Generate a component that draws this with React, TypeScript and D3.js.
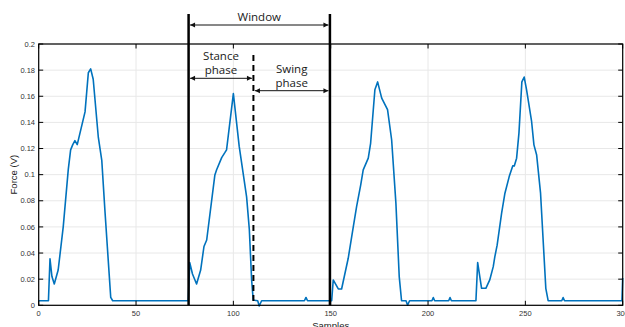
import React from "react";
import * as d3 from "d3";

const W = 625;
const H = 327;

// Force signal (sample index, volts)
const sampleIdx: number[] = [
  0, 5, 5.8, 6.8, 8, 10, 12.6, 15.2, 16.4, 17.5, 18.6, 19.8, 23.8, 25.5, 26.7, 28, 30.6, 32.4, 34, 35.7, 37, 38,
  76.8, 77.6, 79, 81.1, 83.2, 84.9, 86.3, 90.5, 91.4, 94, 95.7, 96.5, 100, 103, 106.8, 108.2, 109.4, 110.2, 112.5, 113.3, 114.5, 136.5, 137.3, 138.1, 149.8,
  150.5, 151.3, 153.9, 155.6, 159, 161.6, 163.3, 165.4, 166.7, 169.3, 170.5, 172.7, 174.1, 176.2, 179.2, 181.3, 183.5, 185.2, 186.4, 188.7, 189.5, 190.5, 202, 202.7, 203.4, 210.6, 211.3, 212, 224.6,
  225.5, 227.5, 229.7, 231.7, 233.5, 234.3, 235.5, 237.8, 239.5, 241.7, 243.5, 244.3, 245.5, 246.7, 248.2, 249.4, 250.6, 253.2, 254.4, 255.8, 257.8, 259.5, 260.5, 261.7, 268.7, 269.4, 270.1, 299.6, 300,
];
const forceV: number[] = [
  0.0035, 0.0035, 0.0355, 0.022, 0.0163, 0.027, 0.06, 0.104, 0.119, 0.123, 0.126, 0.123, 0.148, 0.178, 0.181, 0.173, 0.129, 0.111, 0.073, 0.035, 0.006, 0.0035,
  0.0035, 0.0327, 0.024, 0.0163, 0.027, 0.045, 0.05, 0.0998, 0.1037, 0.113, 0.117, 0.119, 0.162, 0.1216, 0.083, 0.058, 0.019, 0.004, 0.0035, -0.0005, 0.0035, 0.0035, 0.006, 0.0035, 0.0035,
  0.0035, 0.0194, 0.0125, 0.0125, 0.036, 0.06, 0.0756, 0.092, 0.1037, 0.1126, 0.124, 0.165, 0.171, 0.1586, 0.1497, 0.1267, 0.078, 0.022, 0.0035, 0.0035, 0.0, 0.0035, 0.0035, 0.006, 0.0035, 0.0035, 0.006, 0.0035, 0.0035,
  0.0327, 0.013, 0.013, 0.0194, 0.0296, 0.037, 0.046, 0.0705, 0.0858, 0.0985, 0.1067, 0.1067, 0.1126, 0.1318, 0.171, 0.1747, 0.165, 0.1407, 0.1228, 0.115, 0.0858, 0.04, 0.013, 0.0035, 0.0035, 0.006, 0.0035, 0.0035, 0.021,
];

const xTicks: number[] = [0, 50, 100, 150, 200, 250, 300];
const yTicks: number[] = [0, 0.02, 0.04, 0.06, 0.08, 0.1, 0.12, 0.14, 0.16, 0.18, 0.2];

// Annotation positions (samples)
const windowStart = 77;
const windowEnd = 149.6;
const stanceEnd = 110.3;

export default function App() {
  const x = d3.scaleLinear().domain([0, 300]).range([38.7, 622.7]);
  const y = d3.scaleLinear().domain([0, 0.2]).range([305.3, 44]);
  const pts = sampleIdx.map((s, i) => [s, forceV[i]] as [number, number]);
  const line = d3
    .line<[number, number]>()
    .x((d) => x(d[0]))
    .y((d) => y(d[1]));

  const x0 = x.range()[0];
  const x1 = x.range()[1];
  const y0 = y.range()[0];
  const y1 = y.range()[1];
  const tickFont = "'Liberation Sans', Arial, sans-serif";
  const annFont = "'Open Sans', sans-serif";
  const wl = x(windowStart);
  const wr = x(windowEnd);
  const sd = x(stanceEnd);
  const tl = 4.5;

  const arrow = (xa: number, xb: number, yy: number, key: string) => (
    <g key={key}>
      <line x1={xa} x2={xb} y1={yy} y2={yy} stroke="#111" strokeWidth={1} />
      <path d={`M${xa},${yy} l5,-2.5 l0,5 z`} fill="#111" />
      <path d={`M${xb},${yy} l-5,-2.5 l0,5 z`} fill="#111" />
    </g>
  );

  return (
    <svg
      width={W}
      height={H}
      style={{ position: "absolute", left: 0, top: 0, background: "#fff" }}
    >
      <rect x={0} y={0} width={W} height={H} fill="#fff" />
      {/* grid */}
      {yTicks.map((t) => (
        <line key={"gy" + t} x1={x0} x2={x1} y1={y(t)} y2={y(t)} stroke="#e8e8e8" strokeWidth={1} />
      ))}
      {xTicks.map((t) => (
        <line key={"gx" + t} x1={x(t)} x2={x(t)} y1={y0} y2={y1} stroke="#e8e8e8" strokeWidth={1} />
      ))}
      {/* data line */}
      <defs>
        <clipPath id="plotclip">
          <rect x={x0} y={y1 - 2} width={x1 - x0} height={y0 - y1 + 4} />
        </clipPath>
      </defs>
      <path
        d={line(pts) || ""}
        fill="none"
        stroke="#0072BD"
        strokeWidth={1.6}
        strokeLinejoin="round"
      />
      {/* box */}
      <rect x={x0} y={y1} width={x1 - x0} height={y0 - y1} fill="none" stroke="#000" strokeWidth={1.2} />
      {/* ticks */}
      {xTicks.map((t) => (
        <g key={"tx" + t}>
          <line x1={x(t)} x2={x(t)} y1={y0} y2={y0 - tl} stroke="#000" strokeWidth={1} />
          <line x1={x(t)} x2={x(t)} y1={y1} y2={y1 + tl} stroke="#000" strokeWidth={1} />
          <text
            x={x(t)}
            y={316}
            textAnchor="middle"
            fontFamily={tickFont}
            fontSize={7.5}
            fill="#333"
          >
            {t}
          </text>
        </g>
      ))}
      {yTicks.map((t) => (
        <g key={"ty" + t}>
          <line x1={x0} x2={x0 + tl} y1={y(t)} y2={y(t)} stroke="#000" strokeWidth={1} />
          <line x1={x1} x2={x1 - tl} y1={y(t)} y2={y(t)} stroke="#000" strokeWidth={1} />
          <text
            x={35}
            y={y(t) + 2.7}
            textAnchor="end"
            fontFamily={tickFont}
            fontSize={7.5}
            fill="#333"
          >
            {String(+t.toFixed(2))}
          </text>
        </g>
      ))}
      {/* axis labels */}
      <text
        x={(x0 + x1) / 2}
        y={328.5}
        textAnchor="middle"
        fontFamily={tickFont}
        fontSize={9.5}
        fill="#222"
      >
        Samples
      </text>
      <text
        transform={`translate(17,${(y0 + y1) / 2}) rotate(-90)`}
        textAnchor="middle"
        fontFamily={tickFont}
        fontSize={9.5}
        fill="#222"
      >
        Force (V)
      </text>
      {/* annotations */}
      <line x1={wl} x2={wl} y1={14} y2={y0} stroke="#000" strokeWidth={2.5} />
      <line x1={wr} x2={wr} y1={14} y2={y0} stroke="#000" strokeWidth={2.5} />
      <line
        x1={sd}
        x2={sd}
        y1={55}
        y2={y0}
        stroke="#000"
        strokeWidth={2}
        strokeDasharray="6,4"
      />
      {arrow(wl + 1.5, wr - 1.5, 25, "aw")}
      {arrow(wl + 1.5, sd - 1.5, 78.3, "as")}
      {arrow(sd + 1.5, wr - 1.5, 90.7, "asw")}
      <text x={(wl + wr) / 2} y={20.7} textAnchor="middle" fontFamily={annFont} fontSize={11.5} fill="#1a1a1a">
        Window
      </text>
      <text x={(wl + sd) / 2} y={59.5} textAnchor="middle" fontFamily={annFont} fontSize={11.5} fill="#1a1a1a">
        Stance
      </text>
      <text x={(wl + sd) / 2} y={73.8} textAnchor="middle" fontFamily={annFont} fontSize={11.5} fill="#1a1a1a">
        phase
      </text>
      <text x={(sd + wr) / 2} y={72.5} textAnchor="middle" fontFamily={annFont} fontSize={11.5} fill="#1a1a1a">
        Swing
      </text>
      <text x={(sd + wr) / 2} y={86.7} textAnchor="middle" fontFamily={annFont} fontSize={11.5} fill="#1a1a1a">
        phase
      </text>
    </svg>
  );
}
